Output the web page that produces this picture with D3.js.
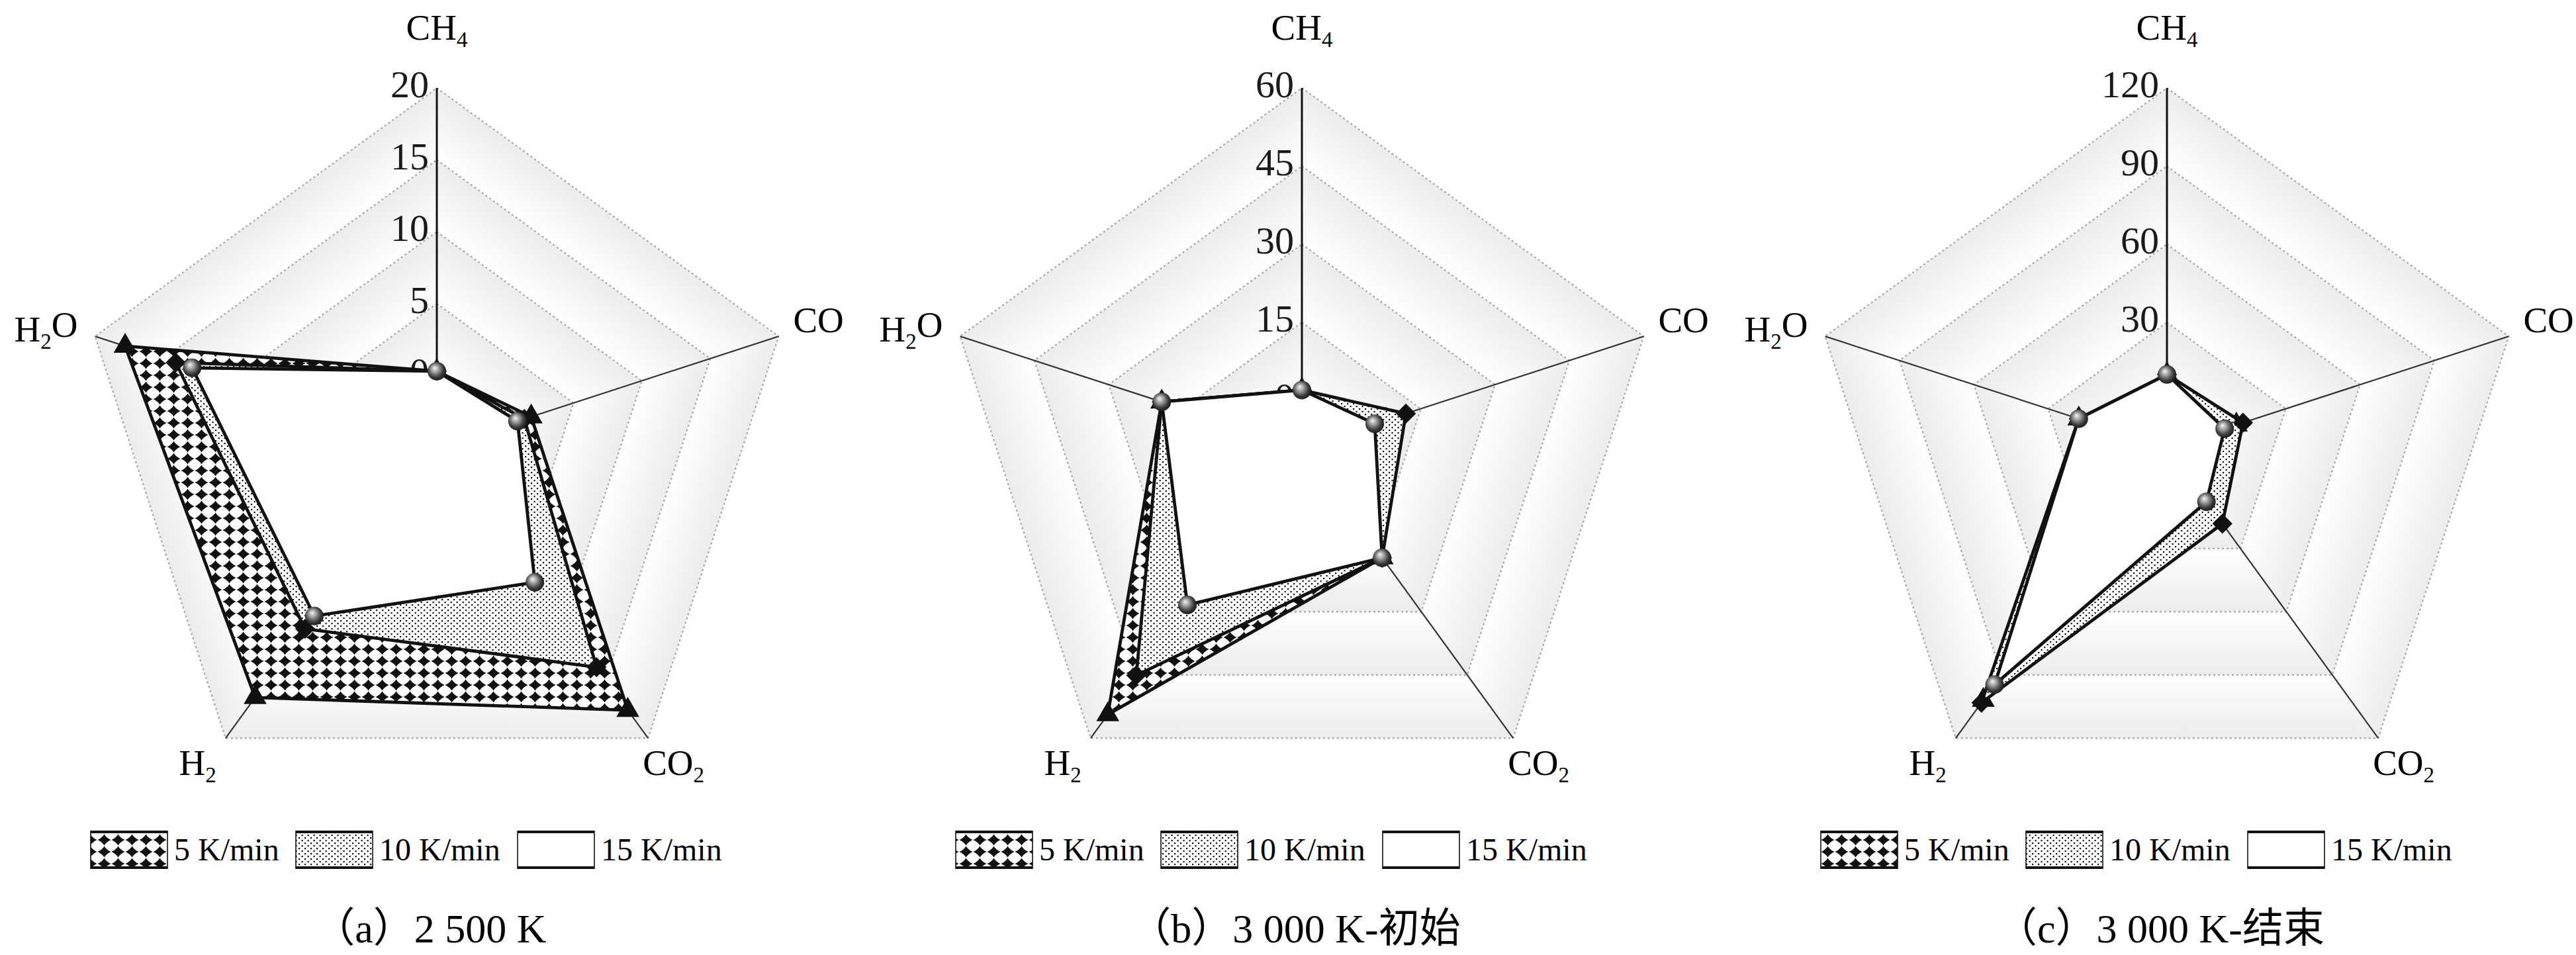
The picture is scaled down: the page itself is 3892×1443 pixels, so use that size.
<!DOCTYPE html>
<html><head><meta charset="utf-8">
<script src="https://cdn.jsdelivr.net/npm/d3@7"></script>
<style>body{margin:0;background:#fff} svg{display:block}</style>
</head><body>
<svg id="chart" width="3892" height="1443"></svg>
<script>
// ---------- data ----------
const categories = ["CH4", "CO", "CO2", "H2", "H2O"];
const seriesNames = ["5 K/min", "10 K/min", "15 K/min"];
const panelTitles = ["（a）2 500 K", "（b）3 000 K-初始", "（c）3 000 K-结束"];
const ticksA = [0, 5, 10, 15, 20];
const ticksB = [0, 15, 30, 45, 60];
const ticksC = [0, 30, 60, 90, 120];
const axisMinA = -5, axisMinB = -9, axisMinC = -18;
// order of values follows categories: CH4, CO, CO2, H2, H2O
const a5  = [0.3, 1.9, 17.6, 16.5, 17.8];
const a10 = [0.3, 1.4, 13.9, 10.6, 14.1];
const a15 = [0.3, 0.9, 6.6, 9.5, 12.9];
const b5  = [2.0, 8.0, 17.2, 54.4, 19.3];
const b10 = [2.0, 12.0, 17.2, 45.1, 19.3];
const b15 = [2.0, 5.7, 17.2, 28.4, 19.3];
const c5  = [10, 10, 15, 102, 17.6];
const c10 = [10, 12.7, 18.2, 103.2, 17.6];
const c15 = [10, 5.3, 7.8, 94.6, 17.6];

// ---------- layout ----------
const R = 543, CY = 676;
const panels = [
  {cx: 660,  ticks: ticksA, min: axisMinA, series: [a5, a10, a15], title: panelTitles[0]},
  {cx: 1967, ticks: ticksB, min: axisMinB, series: [b5, b10, b15], title: panelTitles[1]},
  {cx: 3274, ticks: ticksC, min: axisMinC, series: [c5, c10, c15], title: panelTitles[2]}
];
const serif = "'Liberation Serif','Times New Roman',serif";
const svg = d3.select("#chart");
const defs = svg.append("defs");

// patterns
const p5 = defs.append("pattern").attr("id", "pat5").attr("patternUnits", "userSpaceOnUse")
  .attr("width", 21).attr("height", 18);
p5.append("rect").attr("width", 21).attr("height", 18).attr("fill", "#fff");
p5.append("path").attr("d", "M10.5,0.4 Q13.6,6.0 20.6,9 Q13.6,12.0 10.5,17.6 Q7.4,12.0 0.4,9 Q7.4,6.0 10.5,0.4Z").attr("fill", "#111");
const p10 = defs.append("pattern").attr("id", "pat10").attr("patternUnits", "userSpaceOnUse")
  .attr("width", 9).attr("height", 8);
p10.append("rect").attr("width", 9).attr("height", 8).attr("fill", "#fff");
p10.append("rect").attr("x", 1).attr("y", 1).attr("width", 2.2).attr("height", 2.2).attr("fill", "#111");
p10.append("rect").attr("x", 5.5).attr("y", 5).attr("width", 2.2).attr("height", 2.2).attr("fill", "#111");
const fills = ["url(#pat5)", "url(#pat10)", "#fff"];

const sg = defs.append("radialGradient").attr("id", "sphere")
  .attr("cx", "45%").attr("cy", "45%").attr("r", "60%").attr("fx", "38%").attr("fy", "32%");
[[0, "#f4f4f4"], [0.3, "#a8a8a8"], [0.7, "#3c3c3c"], [1, "#151515"]].forEach(s =>
  sg.append("stop").attr("offset", s[0]).attr("stop-color", s[1]));

const ang = i => -Math.PI / 2 + i * 2 * Math.PI / 5;

function formula(sel, txt) {
  let sub = false;
  for (const ch of txt) {
    const isD = /[0-9]/.test(ch);
    const t = sel.append("tspan").text(ch);
    if (isD && !sub) { t.attr("font-size", "0.6em").attr("dy", "0.32em"); sub = true; }
    else if (isD && sub) { t.attr("font-size", "0.6em"); }
    else if (!isD && sub) { t.attr("dy", "-0.32em"); sub = false; }
  }
}

panels.forEach((P, pi) => {
  const g = svg.append("g");
  const cx = P.cx;
  const rs = d3.scaleLinear().domain([P.min, P.ticks[P.ticks.length - 1]]).range([0, R]);
  const pt = (i, v) => [cx + rs(v) * Math.cos(ang(i)), CY + rs(v) * Math.sin(ang(i))];
  const rings = [P.min].concat(P.ticks);

  // shaded bands
  for (let k = 0; k < 5; k++) {
    for (let j = 0; j < rings.length - 1; j++) {
      const o1 = pt(k, rings[j + 1]), o2 = pt(k + 1, rings[j + 1]);
      const i1 = pt(k, rings[j]), i2 = pt(k + 1, rings[j]);
      const id = `bg${pi}_${k}_${j}`;
      const gr = defs.append("linearGradient").attr("id", id).attr("gradientUnits", "userSpaceOnUse")
        .attr("x1", (o1[0] + o2[0]) / 2).attr("y1", (o1[1] + o2[1]) / 2)
        .attr("x2", (i1[0] + i2[0]) / 2).attr("y2", (i1[1] + i2[1]) / 2);
      gr.append("stop").attr("offset", 0).attr("stop-color", "#ececec");
      gr.append("stop").attr("offset", 1).attr("stop-color", "#ffffff");
      g.append("path").attr("d", d3.line()([o1, o2, i2, i1]) + "Z")
        .attr("fill", `url(#${id})`).attr("stroke", "none");
    }
  }
  // ring lines
  P.ticks.forEach(t => {
    g.append("path").attr("d", d3.line()(d3.range(5).map(i => pt(i, t))) + "Z")
      .attr("fill", "none").attr("stroke", "#a6a6a6").attr("stroke-width", 2.2)
      .attr("stroke-dasharray", "3,4");
  });
  // axes
  d3.range(5).forEach(i => {
    const c = pt(i, P.min), e = pt(i, P.ticks[P.ticks.length - 1]);
    g.append("line").attr("x1", c[0]).attr("y1", c[1]).attr("x2", e[0]).attr("y2", e[1])
      .attr("stroke", i === 0 ? "#111" : "#333").attr("stroke-width", i === 0 ? 3 : 2.2);
  });
  // tick labels
  P.ticks.forEach(t => {
    g.append("text").attr("x", cx - 12).attr("y", CY - rs(t) + 14)
      .attr("text-anchor", "end").attr("font-family", serif).attr("font-size", 58)
      .attr("fill", "#1a1a1a").text(t);
  });
  // series
  P.series.forEach((vals, s) => {
    const pts = vals.map((v, i) => pt(i, v));
    g.append("path").attr("d", d3.line()(pts) + "Z")
      .attr("fill", fills[s]).attr("stroke", "#111").attr("stroke-width", 4.8)
      .attr("stroke-linejoin", "round");
    pts.forEach(p => {
      if (s === 0) {
        g.append("path").attr("d", d3.symbol(d3.symbolTriangle, 520)())
          .attr("transform", `translate(${p[0]},${p[1]})`).attr("fill", "#111");
      } else if (s === 1) {
        g.append("path").attr("d", d3.symbol(d3.symbolSquare, 460)())
          .attr("transform", `translate(${p[0]},${p[1]}) rotate(45)`).attr("fill", "#111");
      } else {
        g.append("circle").attr("cx", p[0]).attr("cy", p[1]).attr("r", 14)
          .attr("fill", "url(#sphere)");
      }
    });
  });
  // axis labels
  const maxV = P.ticks[P.ticks.length - 1];
  const lab = [
    {i: 0, dx: 0, dy: -73, anchor: "middle"},
    {i: 1, dx: 22, dy: -6, anchor: "start"},
    {i: 2, dx: -8, dy: 56, anchor: "start"},
    {i: 3, dx: -14, dy: 56, anchor: "end"},
    {i: 4, dx: -26, dy: 8, anchor: "end"}
  ];
  lab.forEach(L => {
    const e = pt(L.i, maxV);
    const t = g.append("text").attr("x", e[0] + L.dx).attr("y", e[1] + L.dy)
      .attr("text-anchor", L.anchor).attr("font-family", serif).attr("font-size", 55).attr("fill", "#000");
    formula(t, categories[L.i]);
  });
  // legend
  const lx = cx - 523, ly = 1256, bw = 116, bh = 56;
  const offs = [0, 310, 645];
  seriesNames.forEach((nm, s) => {
    const x = lx + offs[s];
    g.append("rect").attr("x", x).attr("y", ly).attr("width", bw).attr("height", bh)
      .attr("fill", fills[s]).attr("stroke", "#111").attr("stroke-width", 1.6);
    g.append("line").attr("x1", x).attr("x2", x + bw).attr("y1", ly + 1).attr("y2", ly + 1)
      .attr("stroke", "#111").attr("stroke-width", 4);
    g.append("line").attr("x1", x).attr("x2", x + bw).attr("y1", ly + bh - 1).attr("y2", ly + bh - 1)
      .attr("stroke", "#111").attr("stroke-width", 4);
    g.append("text").attr("x", x + bw + 10).attr("y", ly + bh / 2 + 16)
      .attr("font-family", serif).attr("font-size", 48).attr("fill", "#000").text(nm);
  });
  // caption
  g.append("text").attr("x", cx - 10).attr("y", 1424).attr("text-anchor", "middle")
    .attr("font-family", "'Liberation Serif','Noto Sans CJK SC',serif").attr("font-size", 62)
    .attr("fill", "#000").text(P.title);
});
</script>
</body></html>
